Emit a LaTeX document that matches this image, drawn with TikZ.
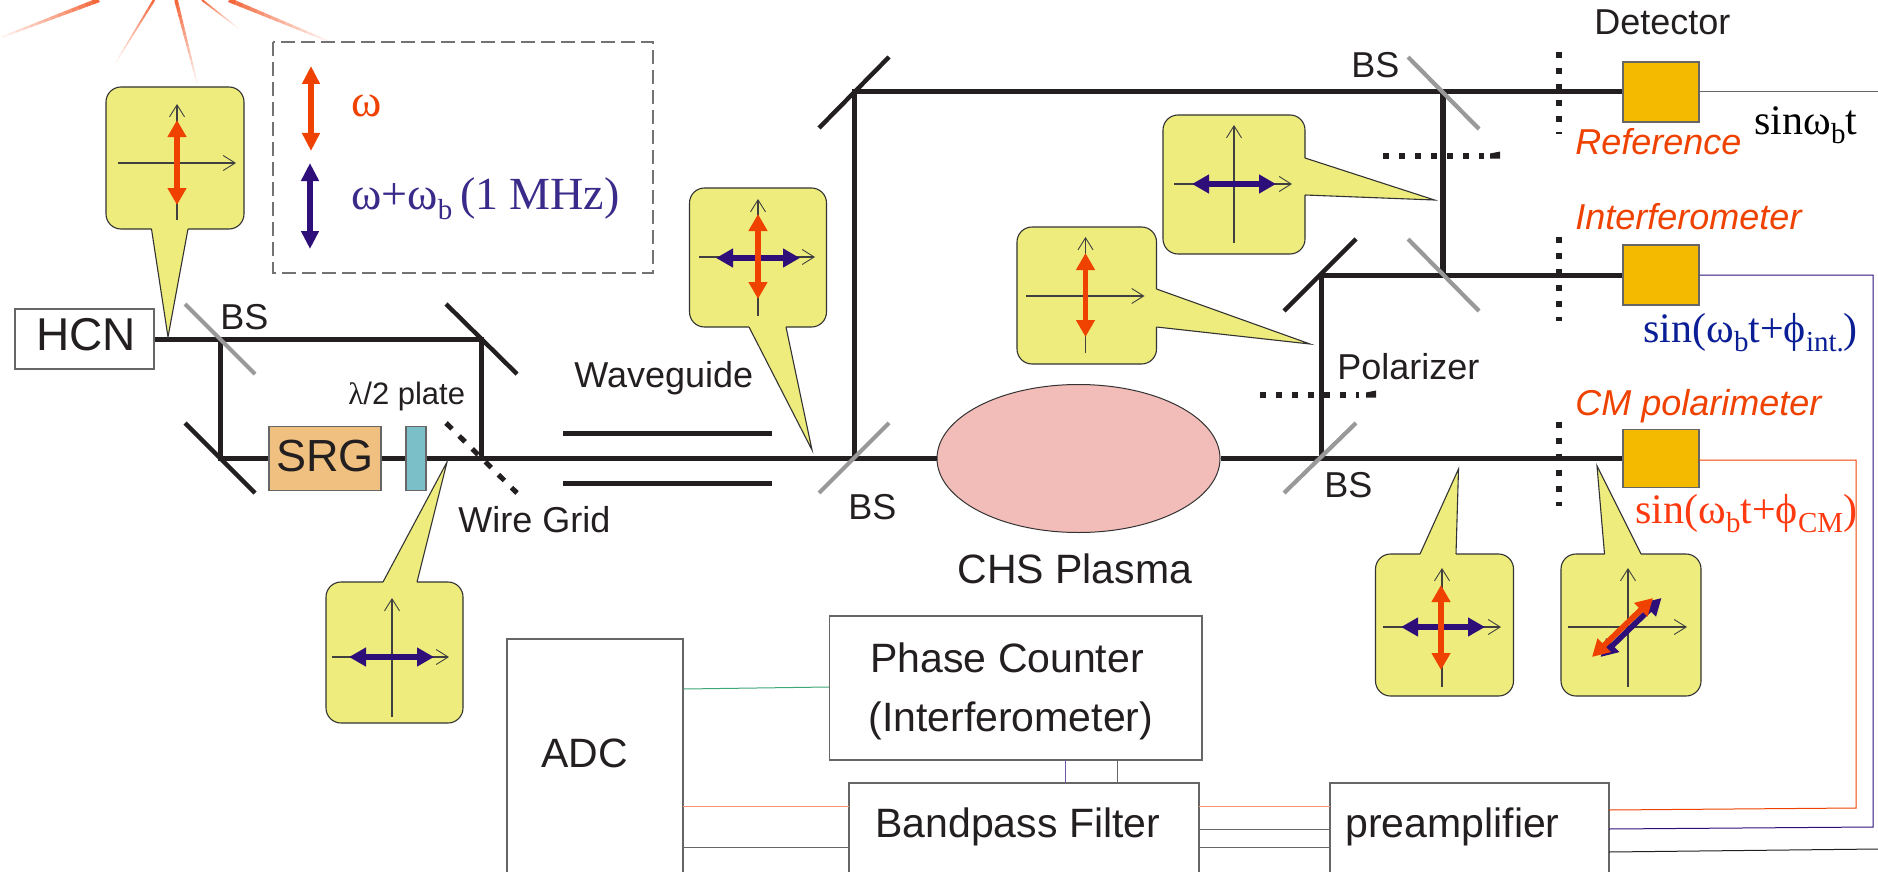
\documentclass[tikz,border=0pt]{standalone}
\usepackage{fontspec}
\setmainfont{Liberation Sans}
\newfontfamily\tnr{Liberation Serif}
\usetikzlibrary{arrows.meta,shapes.geometric}
\definecolor{cyel}{HTML}{EDEC7C}
\definecolor{cor}{HTML}{EF4100}
\definecolor{cpu}{HTML}{2E0F7A}
\definecolor{cink}{HTML}{231F20}
\definecolor{cdet}{HTML}{F4BA00}
\definecolor{csrg}{HTML}{F0C080}
\definecolor{cpla}{HTML}{7BBFC9}
\definecolor{cpink}{HTML}{F2BCB8}
\definecolor{cgrey}{HTML}{999999}
\definecolor{cbox}{HTML}{666666}
\definecolor{cray}{HTML}{F4683C}
\definecolor{cblue}{HTML}{0A1E96}
\definecolor{cred}{HTML}{FF3A10}
\definecolor{cleg}{HTML}{3A2A8A}
\definecolor{cgreen}{HTML}{3FA878}
\tikzset{
  beam/.style={draw=cink,line width=2.5pt},
  mirror/.style={draw=cink,line width=2.2pt},
  splitter/.style={draw=cgrey,line width=2.1pt},
  dotline/.style={draw=cink,line width=2.7pt,dash pattern=on 3.2pt off 4.8pt},
  gridline/.style={draw=cink,line width=2.5pt,dash pattern=on 4.2pt off 5pt},
  boxn/.style={draw=cbox,line width=.6pt,fill=white,inner sep=0pt,minimum width=#1},
  optbox/.style={draw=cbox,line width=.6pt,inner sep=0pt},
  wire/.style={line width=.5pt},
  lab/.style={anchor=base west,inner sep=0pt,text=cink,font=\fontsize{18}{20}\selectfont},
  biglab/.style={anchor=base west,inner sep=0pt,text=cink,font=\fontsize{20.5}{22}\selectfont},
  orlab/.style={anchor=base west,inner sep=0pt,text=cor,font=\fontsize{18}{20}\selectfont\itshape},
  serlab/.style={anchor=base west,inner sep=0pt,font=\fontsize{21}{23}\selectfont\tnr},
  legarrow/.style={line width=3pt,{Triangle[length=9pt,width=8.5pt]}-{Triangle[length=9pt,width=8.5pt]}},
  pol/.style={line width=2.8pt,{Triangle[length=8.5pt,width=9pt]}-{Triangle[length=8.5pt,width=9pt]}},
  axis/.style={draw=black!75,line width=.55pt,-{Straight Barb[length=6pt,width=7.5pt,line width=.45pt]}},
}
\newcommand{\lightray}[5]{%
  \foreach \i in {0,...,13}{%
    \pgfmathsetmacro\sa{\i/14}\pgfmathsetmacro\sb{(\i+1)/14}%
    \pgfmathtruncatemacro\pc{100-7*\i}%
    \pgfmathsetmacro\lw{#5*(1-0.65*\sa)}%
    \draw[line width=\lw pt,color=cray!\pc!white]
      ({#1+(#3-#1)*\sa},{#2+(#4-#2)*\sa}) -- ({#1+(#3-#1)*\sb},{#2+(#4-#2)*\sb});
  }}
% box x1 y1 x2 y2, tail base1, tip, tail base2
\newcommand{\ycall}[7]{%
  \draw[draw=black!80,fill=cyel,line width=.55pt,rounded corners=7.5pt] (#1,#2) rectangle (#3,#4);
  \fill[cyel] (#5) -- (#6) -- (#7) -- ({(#1+#3)/2},{(#2+#4)/2}) -- cycle;
  \draw[draw=black!80,line width=.55pt] (#5) -- (#6) -- (#7);
}
\newcommand{\yaxes}[6]{%
  \draw[axis] (#1,#3) -- (#1,#2);
  \draw[axis] (#5,#4) -- (#6,#4);
}
\newcommand{\subs}[1]{\raisebox{-.22em}{\fontsize{14.5}{15}\selectfont #1}}
\begin{document}
\begin{tikzpicture}[x=0.5pt,y=-0.5pt]
\useasboundingbox (0,0) rectangle (1878,872);
\clip (0,0) rectangle (1878,872);
% light source rays
\lightray{99}{0}{2}{37}{2.2}
\lightray{154}{0}{116}{62}{1.2}
\lightray{176}{0}{197}{83}{1.8}
\lightray{202}{0}{238}{28}{1}
\lightray{229}{0}{328}{41}{2.2}
% legend frame
\draw[draw=black!55,line width=.6pt,dash pattern=on 7pt off 3pt] (273,42) rectangle (653,273);
\draw[legarrow,draw=cor,fill=cor,color=cor] (311,66) -- (311,151);
\draw[legarrow,draw=cpu,fill=cpu,color=cpu] (310,163) -- (310,249);
\node[serlab,text=cor,font=\fontsize{23}{25}\selectfont\tnr] (legw) at (351,117) {ω};
\node[serlab,text=cleg,font=\fontsize{23}{25}\selectfont\tnr] (legwb) at (351,209) {ω+ω\subs{b}\,(1 MHz)};
% named points on the beams
\coordinate (bsa) at (220,339);
\coordinate (ma) at (481,339);
\coordinate (mb) at (220,458.5);
\coordinate (mc) at (481,458.5);
\coordinate (bsb) at (854,458.5);
\coordinate (md) at (854,92);
\coordinate (bsc) at (1443,92);
\coordinate (bsd) at (1443,275);
\coordinate (me) at (1321,275);
\coordinate (bse) at (1321,458.5);
% boxes
\node[boxn=69.5pt,minimum height=30pt] (hcn) at (84.5,339) {};
\node[optbox,fill=csrg,minimum width=56pt,minimum height=32pt] (srg) at (325,458.5) {};
\node[optbox,fill=cpla,minimum width=10pt,minimum height=32pt] (plate) at (416,458.5) {};
\node[ellipse,draw=black!80,line width=.5pt,fill=cpink,inner sep=0pt,minimum width=141.5pt,minimum height=74pt] (plasma) at (1078.5,458.5) {};
\node[optbox,fill=cdet,minimum width=38pt,minimum height=30pt] (det1) at (1661,92) {};
\node[optbox,fill=cdet,minimum width=38pt,minimum height=30pt] (det2) at (1661,275) {};
\node[optbox,fill=cdet,minimum width=38pt,minimum height=29pt] (det3) at (1661,458.5) {};
\node[boxn=186.25pt,minimum height=72pt] (phase) at (1015.75,688) {};
\node[boxn=88pt,minimum height=140.5pt] (adc) at (595,779.5) {};
\node[boxn=175pt,minimum height=73.5pt] (bp) at (1024,856.5) {};
\node[boxn=139.5pt,minimum height=73.5pt] (pre) at (1469.5,856.5) {};
% beams
\draw[beam] (hcn.east) -- (bsa) -- (ma) -- (mc);
\draw[beam] (bsa) -- (mb) -- (srg.west);
\draw[beam] (srg.east) -- (plate.west);
\draw[beam] (plate.east) -- (mc) -- (bsb) -- (plasma.west);
\draw[beam] (bsb) -- (md) -- (bsc) -- (det1.west);
\draw[beam,line width=3.2pt] (bsc) -- (bsd);
\draw[beam] (bsd) -- (det2.west);
\draw[beam] (bsd) -- (me) -- (bse);
\draw[beam] (plasma.east) -- (bse) -- (det3.west);
% waveguide
\draw[beam] (563,433) -- (772,433);
\draw[beam] (563,483) -- (772,483);
% mirrors
\draw[mirror] (446,304) -- (517,374);
\draw[mirror] (185,423) -- (255,493);
\draw[mirror] (819,128) -- (889,57);
\draw[mirror] (1284,311) -- (1356,239);
% beam splitters
\draw[splitter] (185,304) -- (255,374);
\draw[splitter] (819,493) -- (889,423);
\draw[splitter] (1284,493) -- (1356,423);
\draw[splitter] (1408,57) -- (1479,129);
\draw[splitter] (1408,239) -- (1479,311);
% wire grids / polarizers
\draw[gridline] (446,423) -- (517,493);
\draw[dotline] (1559,52) -- (1559,134);
\draw[dotline] (1559,237) -- (1559,321);
\draw[dotline] (1559,422) -- (1559,506);
\draw[dotline] (1383,156) -- (1484,156);
\fill[cink] (1490,153.5) -- (1500,151.5) -- (1500,158.5) -- (1490,158.5) -- cycle;
\draw[dotline] (1260,395) -- (1359,395);
\fill[cink] (1366,392.5) -- (1376,390.5) -- (1376,397.5) -- (1366,397.5) -- cycle;
% signal wires
\draw[wire,draw=cbox] (det1.east) -- (1878,92);
\draw[wire,draw=cpu] (det2.east) -- (1873,275) -- (1873,827) -- (1609,829);
\draw[wire,draw=cor] (1699,460) -- (1856,460) -- (1856,808) -- (1609,810);
\draw[wire,draw=cink] (1609,852) -- (1878,849);
\draw[wire,draw=cgreen] (adc.east |- 0,689) -- (phase.west |- 0,687);
\draw[wire,draw=cpu!70!white] (1065,760) -- (1065,783);
\draw[wire,draw=cbox] (1117,760) -- (1117,783);
\draw[wire,draw=cray!70!white] (683,806) -- (849,806);
\draw[wire,draw=cbox] (683,847) -- (849,847);
\draw[wire,draw=cray!70!white] (1199,806) -- (1330,806);
\draw[wire,draw=cbox] (1199,829) -- (1330,829);
\draw[wire,draw=cbox] (1199,847) -- (1330,847);
% callouts
\ycall{106}{87}{244}{229}{151.5,229}{168,337}{188,229}
\yaxes{177}{104}{220}{163}{118}{236}
\draw[pol,draw=cor,color=cor] (177,120) -- (177,205);

\ycall{326}{582}{463}{723}{383,582}{447,462}{417,582}
\yaxes{392}{598}{717}{657}{332}{449}
\draw[pol,draw=cpu,color=cpu] (349,657) -- (434,657);

\ycall{689.5}{188}{826.5}{327}{749,327}{812,450}{786,327}
\yaxes{758}{199}{316}{257}{699}{815}
\draw[pol,draw=cpu,color=cpu] (716,258) -- (800,258);
\draw[pol,draw=cor,color=cor] (758,214) -- (758,299);

\ycall{1017}{227}{1156.5}{364}{1156.5,289}{1310,344}{1156.5,327}
\yaxes{1085.5}{237}{353}{296}{1026}{1144.5}
\draw[pol,draw=cor,color=cor] (1085.5,253) -- (1085.5,337);

\ycall{1163}{115}{1305}{254}{1305,158}{1434.5,200}{1305,195}
\yaxes{1234}{125}{243}{184}{1174}{1292}
\draw[pol,draw=cpu,color=cpu] (1192,184) -- (1276,184);

\ycall{1375.5}{554}{1513.5}{696}{1420,554}{1458.5,469}{1456,554}
\yaxes{1442}{568}{687}{627}{1383}{1501}
\draw[pol,draw=cpu,color=cpu] (1401,627) -- (1485,627);
\draw[pol,draw=cor,color=cor] (1441,585) -- (1441,670);

\ycall{1561}{554}{1701}{696}{1604.5,554}{1597,466}{1641,554}
\yaxes{1628}{568}{687}{627}{1568}{1687}
\draw[pol,draw=cpu,color=cpu] (1661.5,598) -- (1600.5,657);
\draw[pol,draw=cor,color=cor] (1653,598) -- (1592,657);
% labels
\node[lab,font=\fontsize{23}{25}\selectfont] (hcnt) at (36,350) {HCN};
\node[lab,font=\fontsize{22.5}{25}\selectfont] (srgt) at (276,471) {SRG};
\node[lab] (bst1) at (220,329) {BS};
\node[lab,font=\fontsize{15.5}{17}\selectfont] (platet) at (348,404) {{\tnr λ}/2 plate};
\node[lab] (wgt) at (574,387) {Waveguide};
\node[lab] (wiret) at (458,532) {Wire Grid};
\node[lab] (bst2) at (848,519) {BS};
\node[biglab] (chst) at (957,583) {CHS Plasma};
\node[lab] (bst3) at (1324,497) {BS};
\node[lab] (bst4) at (1351,78) {BS};
\node[lab] (polt) at (1337,379) {Polarizer};
\node[lab] (dett) at (1594,35) {Detector};
\node[orlab] (reft) at (1575,155) {Reference};
\node[orlab] (intt) at (1575,229) {Interferometer};
\node[orlab] (cmt) at (1575,415) {CM polarimeter};
\node[serlab,text=black] (s1) at (1754,134) {sinω\subs{b}t};
\node[serlab,text=cblue] (s2) at (1643,342) {sin(ω\subs{b}t+ϕ\subs{int.})};
\node[serlab,text=cred] (s3) at (1635,523) {sin(ω\subs{b}t+ϕ\subs{CM})};
\node[biglab] (adct) at (541,767) {ADC};
\node[biglab] (pht1) at (870,672) {Phase Counter};
\node[biglab] (pht2) at (868,731) {(Interferometer)};
\node[biglab] (bpt) at (875,837) {Bandpass Filter};
\node[biglab] (pret) at (1345,837) {preamplifier};
\end{tikzpicture}
\end{document}
